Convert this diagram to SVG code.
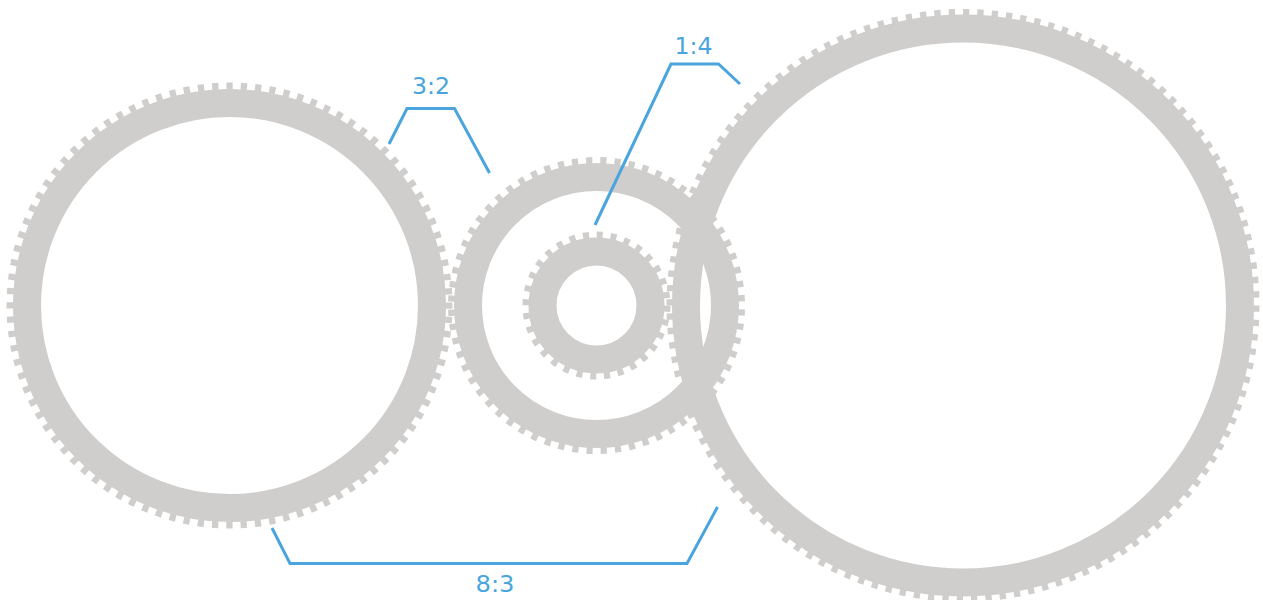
<svg xmlns="http://www.w3.org/2000/svg" width="1263" height="600" viewBox="0 0 1263 600">
<style>
.ring{fill:none;stroke:#d0cecc;stroke-width:28}
.teeth{fill:none;stroke:#d0cecc;stroke-width:7;stroke-dasharray:.88 1.12}
.link{fill:none;stroke:#4aa5de;stroke-width:3;stroke-linejoin:miter}
.label{font-family:"DejaVu Sans",sans-serif;font-size:23px;fill:#4aa5de;text-anchor:middle}
</style>
<rect width="1263" height="600" fill="#fff"/>
<g id="gear-left"><circle class="ring" cx="229.5" cy="305.5" r="202.5"/><circle class="teeth" cx="229.5" cy="305.5" r="219.5" pathLength="192" transform="rotate(-90.8 229.5 305.5)"/></g>
<g id="gear-middle"><circle class="ring" cx="596.5" cy="305.5" r="128.5"/><circle class="teeth" cx="596.5" cy="305.5" r="145" pathLength="128" transform="rotate(-88.5 596.5 305.5)"/></g>
<g id="gear-small"><circle class="ring" cx="596.5" cy="305.5" r="54"/><circle class="teeth" cx="596.5" cy="305.5" r="70.5" pathLength="64" transform="rotate(-89.8 596.5 305.5)"/></g>
<g id="gear-right"><circle class="ring" cx="963" cy="305.5" r="277"/><circle class="teeth" cx="963" cy="305.5" r="293" pathLength="256" transform="rotate(-90 963 305.5)"/></g>
<g id="connectors">
<polyline class="link" points="389,144 407,108.500 454.500,108.500 489.500,173"/>
<polyline class="link" points="595,225 671,64 718.500,64 740,84"/>
<polyline class="link" points="272,528 290,563.500 687,563.500 717.500,507"/>
</g>
<g id="labels">
<text class="label" x="431" y="93.500" textLength="38" lengthAdjust="spacingAndGlyphs">3:2</text>
<text class="label" x="693.500" y="53.500" textLength="38" lengthAdjust="spacingAndGlyphs">1:4</text>
<text class="label" x="495" y="592" textLength="39" lengthAdjust="spacingAndGlyphs">8:3</text>
</g>
</svg>
